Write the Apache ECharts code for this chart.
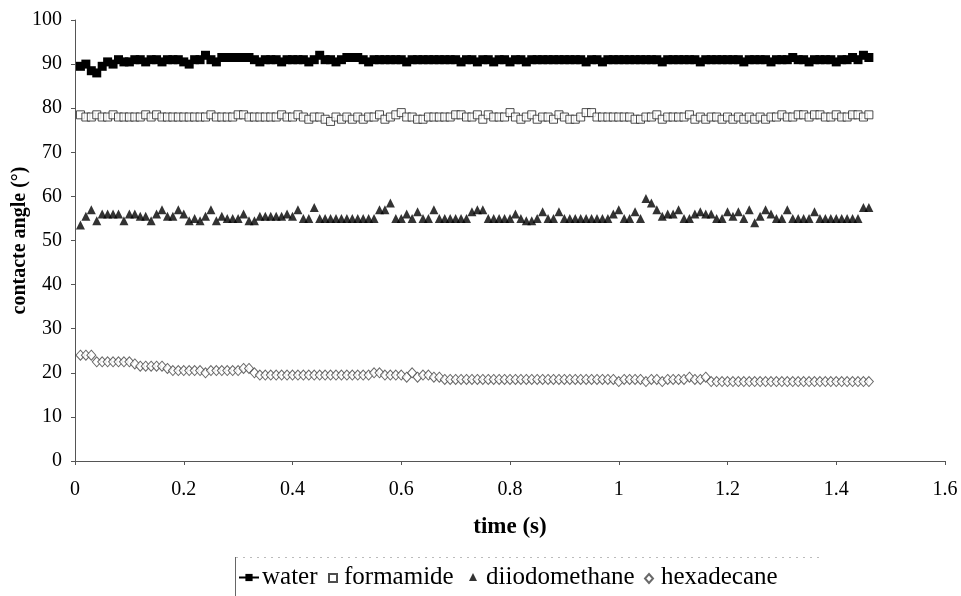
<!DOCTYPE html>
<html>
<head>
<meta charset="utf-8">
<title>contact angle vs time</title>
<script src="https://cdn.jsdelivr.net/npm/echarts@6/dist/echarts.min.js"></script>
<style>
	html, body { margin: 0; padding: 0; background: #fff; }
	#chart { width: 961px; height: 596px; }
</style>
</head>
<body>
<div id="chart"></div>
<script>
// sampling instants (s)
var times = [
	0.01, 0.02, 0.03, 0.04, 0.05, 0.06, 0.07, 0.08, 0.09, 0.10,
	0.11, 0.12, 0.13, 0.14, 0.15, 0.16, 0.17, 0.18, 0.19, 0.20,
	0.21, 0.22, 0.23, 0.24, 0.25, 0.26, 0.27, 0.28, 0.29, 0.30,
	0.31, 0.32, 0.33, 0.34, 0.35, 0.36, 0.37, 0.38, 0.39, 0.40,
	0.41, 0.42, 0.43, 0.44, 0.45, 0.46, 0.47, 0.48, 0.49, 0.50,
	0.51, 0.52, 0.53, 0.54, 0.55, 0.56, 0.57, 0.58, 0.59, 0.60,
	0.61, 0.62, 0.63, 0.64, 0.65, 0.66, 0.67, 0.68, 0.69, 0.70,
	0.71, 0.72, 0.73, 0.74, 0.75, 0.76, 0.77, 0.78, 0.79, 0.80,
	0.81, 0.82, 0.83, 0.84, 0.85, 0.86, 0.87, 0.88, 0.89, 0.90,
	0.91, 0.92, 0.93, 0.94, 0.95, 0.96, 0.97, 0.98, 0.99, 1.00,
	1.01, 1.02, 1.03, 1.04, 1.05, 1.06, 1.07, 1.08, 1.09, 1.10,
	1.11, 1.12, 1.13, 1.14, 1.15, 1.16, 1.17, 1.18, 1.19, 1.20,
	1.21, 1.22, 1.23, 1.24, 1.25, 1.26, 1.27, 1.28, 1.29, 1.30,
	1.31, 1.32, 1.33, 1.34, 1.35, 1.36, 1.37, 1.38, 1.39, 1.40,
	1.41, 1.42, 1.43, 1.44, 1.45, 1.46
];

var water = [
	89.5, 90, 88.5, 88, 89.5, 90.5, 90, 91, 90.5, 90.5,
	91, 91, 90.5, 91, 91, 90.5, 91, 91, 91, 90.5,
	90, 91, 91, 92, 91, 90.5, 91.5, 91.5, 91.5, 91.5,
	91.5, 91.5, 91, 90.5, 91, 91, 91, 90.5, 91, 91,
	91, 91, 90.5, 91, 92, 91, 91, 90.5, 91, 91.5,
	91.5, 91.5, 91, 90.5, 91, 91, 91, 91, 91, 91,
	90.5, 91, 91, 91, 91, 91, 91, 91, 91, 91,
	90.5, 91, 91, 90.5, 91, 91, 90.5, 91, 91, 90.5,
	91, 91, 90.5, 91, 91, 91, 91, 91, 91, 91,
	91, 91, 91, 90.5, 91, 91, 90.5, 91, 91, 91,
	91, 91, 91, 91, 91, 91, 91, 90.5, 91, 91,
	91, 91, 91, 91, 90.5, 91, 91, 91, 91, 91,
	91, 91, 90.5, 91, 91, 91, 91, 90.5, 91, 91,
	91, 91.5, 91, 91, 90.5, 91, 91, 91, 91, 90.5,
	91, 91, 91.5, 91, 92, 91.5
];

var formamide = [
	78.5, 78, 78, 78.5, 78, 78, 78.5, 78, 78, 78,
	78, 78, 78.5, 78, 78.5, 78, 78, 78, 78, 78,
	78, 78, 78, 78, 78.5, 78, 78, 78, 78, 78.5,
	78.5, 78, 78, 78, 78, 78, 78, 78.5, 78, 78,
	78.5, 78, 77.5, 78, 78, 77.5, 77, 78, 77.5, 78,
	77.5, 78, 77.5, 78, 78, 78.5, 77.5, 78, 78.5, 79,
	78, 78, 77.5, 77.5, 78, 78, 78, 78, 78, 78.5,
	78.5, 78, 78, 78.5, 77.5, 78.5, 78, 78, 78, 79,
	78, 77.5, 78, 78.5, 77.5, 78, 78, 77.5, 78.5, 78,
	77.5, 77.5, 78, 79, 79, 78, 78, 78, 78, 78,
	78, 78, 77.5, 77.5, 78, 78, 78.5, 77.5, 78, 78,
	78, 78, 78.5, 77.5, 78, 77.5, 78, 78, 77.5, 78,
	77.5, 78, 77.5, 78, 77.5, 78, 77.5, 78, 78, 78.5,
	78, 78, 78.5, 78.5, 78, 78.5, 78.5, 78, 78, 78.5,
	78, 78, 78.5, 78.5, 78, 78.5
];

var diiodomethane = [
	53.5, 55.5, 57, 54.5, 56, 56, 56, 56, 54.5, 56,
	56, 55.5, 55.5, 54.5, 56, 57, 55.5, 55.5, 57, 56,
	54.5, 55, 54.5, 55.5, 57, 54.5, 55.5, 55, 55, 55,
	56, 54.5, 54.5, 55.5, 55.5, 55.5, 55.5, 55.5, 56, 55.5,
	57, 55, 55, 57.5, 55, 55, 55, 55, 55, 55,
	55, 55, 55, 55, 55, 57, 57, 58.5, 55, 55,
	56, 55, 56.5, 55, 55, 57, 55, 55, 55, 55,
	55, 55, 56.5, 57, 57, 55, 55, 55, 55, 55,
	56, 55, 54.5, 54.5, 55, 56.5, 55, 55, 56.5, 55,
	55, 55, 55, 55, 55, 55, 55, 55, 56, 57,
	55, 55, 56.5, 55, 59.5, 58.5, 57, 55.5, 56, 56,
	57, 55, 55, 56, 56.5, 56, 56, 55, 55, 56.5,
	55.5, 56.5, 55, 57, 54, 55.5, 57, 56, 55, 55,
	57, 55, 55, 55, 55, 56.5, 55, 55, 55, 55,
	55, 55, 55, 55, 57.5, 57.5
];

var hexadecane = [
	24, 24, 24, 22.5, 22.5, 22.5, 22.5, 22.5, 22.5, 22.5,
	22, 21.5, 21.5, 21.5, 21.5, 21.5, 21, 20.5, 20.5, 20.5,
	20.5, 20.5, 20.5, 20, 20.5, 20.5, 20.5, 20.5, 20.5, 20.5,
	21, 21, 20, 19.5, 19.5, 19.5, 19.5, 19.5, 19.5, 19.5,
	19.5, 19.5, 19.5, 19.5, 19.5, 19.5, 19.5, 19.5, 19.5, 19.5,
	19.5, 19.5, 19.5, 19.5, 20, 20, 19.5, 19.5, 19.5, 19.5,
	19, 20, 19, 19.5, 19.5, 19, 19, 18.5, 18.5, 18.5,
	18.5, 18.5, 18.5, 18.5, 18.5, 18.5, 18.5, 18.5, 18.5, 18.5,
	18.5, 18.5, 18.5, 18.5, 18.5, 18.5, 18.5, 18.5, 18.5, 18.5,
	18.5, 18.5, 18.5, 18.5, 18.5, 18.5, 18.5, 18.5, 18.5, 18,
	18.5, 18.5, 18.5, 18.5, 18, 18.5, 18.5, 18, 18.5, 18.5,
	18.5, 18.5, 19, 18.5, 18.5, 19, 18, 18, 18, 18,
	18, 18, 18, 18, 18, 18, 18, 18, 18, 18,
	18, 18, 18, 18, 18, 18, 18, 18, 18, 18,
	18, 18, 18, 18, 18, 18
];

var seriesNames = ['water', 'formamide', 'diiodomethane', 'hexadecane'];

function pairs(vals) {
	var out = [];
	for (var i = 0; i < vals.length; i++) {
		out.push([times[i], vals[i]]);
	}
	return out;
}

var serif = '"Liberation Serif", "Times New Roman", serif';
var chart = echarts.init(document.getElementById('chart'));

// one legend per entry so each icon keeps its own small size,
// names are drawn as graphic text so they stay in the serif face
function legendItem(name, left, w, h) {
	return {
		data: [name],
		left: left,
		top: 573,
		padding: 0,
		itemWidth: w,
		itemHeight: h,
		itemGap: 0,
		selectedMode: false,
		formatter: function() { return ''; }
	};
}

function legendText(name, x) {
	return {
		type: 'text',
		left: x,
		top: 565,
		style: { text: name, fontFamily: serif, fontSize: 25, fontWeight: 'normal', fill: '#000' }
	};
}

var option = {
	backgroundColor: '#fff',
	animation: false,
	textStyle: { fontFamily: serif },
	grid: { left: 75, right: 16, top: 20, bottom: 135, outerBoundsMode: 'none' },
	xAxis: {
		type: 'value',
		min: 0, max: 1.6, interval: 0.2,
		name: 'time (s)',
		nameLocation: 'middle',
		nameGap: 55,
		nameMoveOverlap: false,
		nameTextStyle: { fontFamily: serif, fontWeight: 'bold', fontSize: 23, color: '#000' },
		axisLine: { lineStyle: { color: '#555', width: 1 } },
		axisTick: { show: true, length: 4, lineStyle: { color: '#555' } },
		axisLabel: { fontFamily: serif, fontSize: 20, color: '#000', margin: 19 },
		splitLine: { show: false }
	},
	yAxis: {
		type: 'value',
		min: 0, max: 100, interval: 10,
		name: 'contacte angle (°)',
		nameLocation: 'middle',
		nameGap: 45,
		nameMoveOverlap: false,
		nameTextStyle: { fontFamily: serif, fontWeight: 'bold', fontSize: 20, color: '#000' },
		axisLine: { show: true, lineStyle: { color: '#555', width: 1 } },
		axisTick: { show: true, length: 4, lineStyle: { color: '#555' } },
		axisLabel: { fontFamily: serif, fontSize: 20, color: '#000', margin: 13 },
		splitLine: { show: false }
	},
	legend: [
		legendItem('water', 238, 20, 9),
		legendItem('formamide', 328, 8, 8),
		legendItem('diiodomethane', 469, 8, 8),
		legendItem('hexadecane', 644, 8, 9)
	],
	graphic: [
		{ type: 'line', shape: { x1: 235.5, y1: 557, x2: 235.5, y2: 596 }, style: { stroke: '#666', lineWidth: 1 } },
		{ type: 'line', shape: { x1: 236, y1: 557.5, x2: 820, y2: 557.5 }, style: { stroke: '#bbb', lineWidth: 1, lineDash: [2, 5] } },
		legendText(seriesNames[0], 262),
		legendText(seriesNames[1], 344),
		legendText(seriesNames[2], 486),
		legendText(seriesNames[3], 661)
	],
	series: [
		{
			name: 'water',
			type: 'line',
			data: pairs(water),
			symbol: 'rect',
			symbolSize: 9,
			showAllSymbol: true,
			lineStyle: { color: '#000', width: 2.5 },
			itemStyle: { color: '#000' }
		},
		{
			name: 'formamide',
			type: 'scatter',
			data: pairs(formamide),
			symbol: 'rect',
			symbolSize: 8,
			itemStyle: { color: '#fff', borderColor: '#222', borderWidth: 1 }
		},
		{
			name: 'diiodomethane',
			type: 'scatter',
			data: pairs(diiodomethane),
			symbol: 'triangle',
			symbolSize: 9,
			itemStyle: { color: '#000' }
		},
		{
			name: 'hexadecane',
			type: 'scatter',
			data: pairs(hexadecane),
			symbol: 'diamond',
			symbolSize: [9, 10],
			itemStyle: { color: '#fff', borderColor: '#444', borderWidth: 1 }
		}
	]
};

chart.setOption(option);
</script>
</body>
</html>
